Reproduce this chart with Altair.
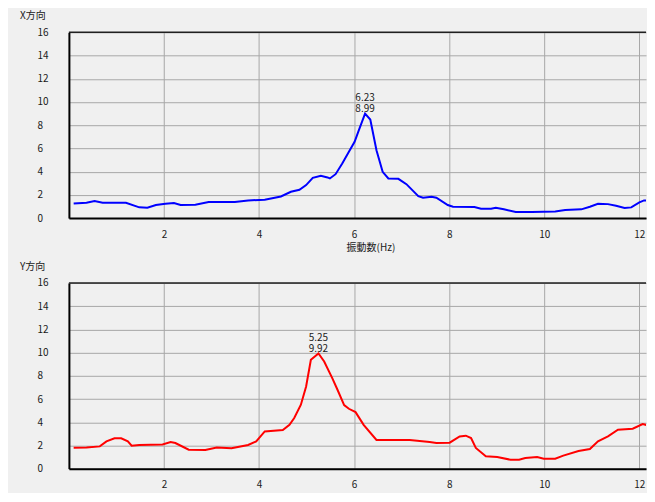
import altair as alt
import pandas as pd

# X方向 (blue)
x_freq = [0.10, 0.37, 0.54, 0.71, 1.20, 1.48, 1.65, 1.83, 2.03, 2.21, 2.35, 2.66, 2.94, 3.49, 3.77,
          4.12, 4.46, 4.67, 4.85, 4.99, 5.13, 5.30, 5.44, 5.49, 5.61, 5.75, 5.89, 6.01, 6.10, 6.23,
          6.34, 6.47, 6.60, 6.72, 6.93, 7.10, 7.35, 7.45, 7.63, 7.73, 7.97, 8.08, 8.53, 8.67, 8.88,
          8.98, 9.15, 9.40, 9.74, 10.23, 10.44, 10.78, 10.96, 11.13, 11.34, 11.51, 11.69, 11.83,
          12.00, 12.10, 12.21]
x_amp = [1.26, 1.32, 1.46, 1.32, 1.32, 0.92, 0.89, 1.12, 1.23, 1.29, 1.12, 1.15, 1.38, 1.38, 1.52,
         1.58, 1.86, 2.26, 2.44, 2.84, 3.47, 3.64, 3.50, 3.41, 3.78, 4.70, 5.71, 6.57, 7.57, 8.99,
         8.49, 5.85, 3.98, 3.41, 3.38, 2.92, 1.89, 1.75, 1.83, 1.75, 1.12, 0.97, 0.95, 0.80, 0.80,
         0.89, 0.75, 0.52, 0.52, 0.57, 0.69, 0.75, 0.97, 1.23, 1.20, 1.06, 0.86, 0.92,
         1.35, 1.52, 1.52]

# Y方向 (red)
y_freq = [0.10, 0.37, 0.65, 0.79, 0.96, 1.10, 1.24, 1.32, 1.48, 1.97, 2.14, 2.24, 2.52, 2.87, 3.11,
          3.42, 3.77, 3.94, 4.12, 4.50, 4.64, 4.74, 4.88, 4.99, 5.09, 5.25, 5.37, 5.54, 5.65, 5.79,
          5.89, 6.03, 6.20, 6.47, 7.17, 7.59, 7.73, 8.01, 8.22, 8.35, 8.46, 8.56, 8.77, 9.01, 9.29,
          9.47, 9.60, 9.85, 9.99, 10.23, 10.40, 10.72, 10.96, 11.13, 11.34, 11.55, 11.86, 12.07, 12.21]
y_amp = [1.81, 1.83, 1.92, 2.35, 2.61, 2.61, 2.35, 1.98, 2.04, 2.09, 2.29, 2.21, 1.63, 1.61, 1.83,
         1.75, 2.04, 2.35, 3.21, 3.33, 3.78, 4.36, 5.51, 7.08, 9.38, 9.92, 9.23, 7.80, 6.80, 5.48,
         5.16, 4.87, 3.78, 2.47, 2.47, 2.29, 2.21, 2.24, 2.78, 2.84, 2.64, 1.78, 1.06, 1.00, 0.77,
         0.77, 0.92, 1.00, 0.86, 0.86, 1.12, 1.52, 1.69, 2.35, 2.78, 3.35, 3.44, 3.84, 3.70]

x_peak = [6.23, 8.99]
y_peak = [5.25, 9.92]

x_ticks = [2, 4, 6, 8, 10, 12]
y_ticks = [0, 2, 4, 6, 8, 10, 12, 14, 16]

FONT = "Noto Sans CJK JP"
FS = 10
INK = "#1a1a1a"
W, H = 578, 186
X_MAX = 12.14


def panel(freq, amp, color, title, peak):
    df = pd.DataFrame({"f": freq, "a": amp})
    xs = alt.Scale(domain=[0, X_MAX], nice=False, zero=False)
    ys = alt.Scale(domain=[0, 16], nice=False)
    xaxis = alt.Axis(values=x_ticks, title="振動数(Hz)", grid=True, ticks=False,
                     labelPadding=11, titleX=302, titleY=30, titleBaseline="middle",
                     labelOverlap=False)
    yaxis = alt.Axis(values=y_ticks, title=None, grid=True, ticks=False,
                     labelAlign="left", labelPadding=32, labelBaseline="middle",
                     labelOverlap=False, labelBound=False)
    xenc = alt.X("f:Q", scale=xs, axis=xaxis)
    yenc = alt.Y("a:Q", scale=ys, axis=yaxis)
    line = alt.Chart(df).mark_line(color=color, strokeWidth=2, clip=True).encode(x=xenc, y=yenc)
    pdf = pd.DataFrame({"f": [peak[0]], "a": [peak[1]],
                        "lab": [f"{peak[0]:.2f}\n{peak[1]:.2f}"]})
    txt = alt.Chart(pdf).mark_text(baseline="bottom", dy=-11, fontSize=FS, font=FONT, color=INK,
                                   lineBreak="\n", lineHeight=11).encode(
        x=xenc, y=yenc, text="lab:N")
    border = alt.Chart(pdf).mark_rule(color="#202020", strokeWidth=1.5).encode(
        x=alt.value(0), x2=alt.value(W), y=alt.value(0))
    ttl = alt.Chart(pdf).mark_text(align="left", baseline="middle", fontSize=FS, font=FONT,
                                   color=INK).encode(
        x=alt.value(-49), y=alt.value(-16), text=alt.value(title))
    return alt.layer(border, line, txt, ttl).properties(width=W, height=H)


top = panel(x_freq, x_amp, "#0000ff", "X方向", x_peak)
bottom = panel(y_freq, y_amp, "#ff0000", "Y方向", y_peak)

chart = alt.vconcat(top, bottom, spacing=65, bounds="flush").properties(
    background="#f0f0f0",
    padding={"left": 12, "top": 3, "right": 0, "bottom": -11},
).configure_view(stroke=None).configure_axis(
    gridColor="#a8a8a8", gridWidth=1, gridOpacity=1,
    domainColor="#000000", domainWidth=2,
    labelFont=FONT, labelFontSize=FS, labelColor=INK,
    titleFont=FONT, titleFontSize=FS, titleFontWeight="normal", titleColor=INK,
)

chart.save("out.html", embed_options={"renderer": "svg", "actions": False})
